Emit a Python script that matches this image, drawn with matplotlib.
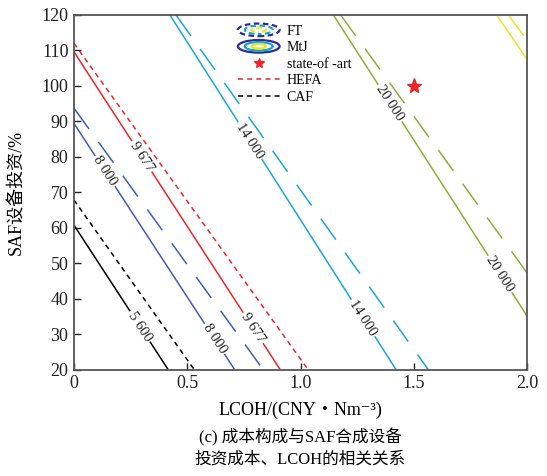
import numpy as np
import matplotlib
matplotlib.use("Agg")
import matplotlib.pyplot as plt
from matplotlib.legend_handler import HandlerBase
from matplotlib.patches import Ellipse
from matplotlib.lines import Line2D

plt.rcParams['font.family'] = ['Liberation Serif', 'DejaVu Serif', 'Noto Sans CJK SC']
plt.rcParams['lines.scale_dashes'] = False

# contour levels (CNY/t) and colours
levels = [5600, 8000, 9677, 14000, 20000, 26000]
level_colors = ['black', '#3f5fb5', '#e8262b', '#1ba6d4', '#8bb03a', '#e6e62a']

# MtJ (solid) lines: entry / exit points
mtj_x0 = [0, 0, 0, 0.423, 1.144, 1.864]
mtj_y0 = [60.7, 89.4, 109.6, 120, 120, 120]
mtj_x1 = [0.415, 0.708, 0.909, 1.42, 2.0, 2.0]
mtj_y1 = [20, 20, 20, 20, 34.9, 107.3]

# FT (dashed) lines
ft_x0 = [0, 0, 0, 0.45, 1.176, 1.916]
ft_y0 = [67.8, 93.7, 112, 120, 120, 120]
ft_x1 = [0.53, 0.834, 1.032, 1.562, 2.0, 2.0]
ft_y1 = [20, 20, 20, 20, 47.1, 112.7]

# inline labels on the MtJ lines: (level index, x position)
label_level = [0, 1, 1, 2, 2, 3, 3, 4, 4]
label_x = [0.291, 0.137, 0.62, 0.299, 0.79, 0.776, 1.275, 1.394, 1.879]

star_x, star_y = [1.5], [100]

xticks = [0, 0.5, 1.0, 1.5, 2.0]
xticklabels = ['0', '0.5', '1.0', '1.5', '2.0']
yticks = list(range(20, 121, 10))

long_dash = (18.5, 11.5)
short_dash = (3.6, 3.0)

fig = plt.figure(figsize=(5.47, 4.76), dpi=100)
ax = fig.add_axes([0.1353, 0.2237, 0.829, 0.7448])
ax.set_xlim(0, 2.0)
ax.set_ylim(20, 120)

for i, lev in enumerate(levels):
    c = level_colors[i]
    ax.plot([mtj_x0[i], mtj_x1[i]], [mtj_y0[i], mtj_y1[i]], color=c, lw=1.1,
            solid_capstyle='butt', zorder=2)
    dash = short_dash if lev in (5600, 9677) else long_dash
    ax.plot([ft_x0[i], ft_x1[i]], [ft_y0[i], ft_y1[i]], color=c, lw=1.1,
            dashes=dash, dash_capstyle='butt', zorder=2)

# labels along lines with white background to cut a gap
for li, lx in zip(label_level, label_x):
    xs = [mtj_x0[li], mtj_x1[li]]
    ys = [mtj_y0[li], mtj_y1[li]]
    ly = ys[0] + (ys[1] - ys[0]) * (lx - xs[0]) / (xs[1] - xs[0])
    p0 = ax.transData.transform((xs[0], ys[0]))
    p1 = ax.transData.transform((xs[1], ys[1]))
    ang = np.degrees(np.arctan2(p1[1] - p0[1], p1[0] - p0[0]))
    if ang < -90:
        ang += 180
    txt = f"{levels[li]:,}".replace(',', ' ')
    ax.text(lx, ly, txt, rotation=ang, rotation_mode='anchor', ha='center', va='center',
            fontsize=10.5, color='#222222', zorder=4,
            bbox=dict(boxstyle='square,pad=0.12', fc='white', ec='none'))

ax.plot(star_x, star_y, marker='*', color='#e8262b', ms=11, ls='none', zorder=5)


class EllipseHandler(HandlerBase):
    def __init__(self, colors, dashed):
        super().__init__()
        self.colors = colors
        self.dashed = dashed

    def create_artists(self, legend, orig_handle, xdescent, ydescent, width, height,
                       fontsize, trans):
        cx = width / 2 - xdescent
        cy = height / 2 - ydescent
        arts = []
        for k, c in enumerate(self.colors):
            s = 1 - 0.33 * k
            e = Ellipse((cx, cy), width * s, height * 1.3 * s, fill=False, ec=c, lw=1.6,
                        transform=trans)
            if self.dashed:
                e.set_linestyle((k * 2, (4, 2.5)))
            arts.append(e)
        return arts


ell_colors = ['#2c2c9c', '#1ba6c0', '#e6e62a']
h_ft = Line2D([], [])
h_mtj = Line2D([], [])
h_star = Line2D([], [], marker='*', color='#e8262b', ls='none', ms=7)
h_hefa = Line2D([], [], color='#e8262b', lw=1.1, dashes=short_dash)
h_caf = Line2D([], [], color='black', lw=1.1, dashes=short_dash)
ax.legend([h_ft, h_mtj, h_star, h_hefa, h_caf], ['FT', 'MtJ', 'state-of -art', 'HEFA', 'CAF'],
          handler_map={h_ft: EllipseHandler(ell_colors, True),
                       h_mtj: EllipseHandler(ell_colors, False)},
          loc='upper left', bbox_to_anchor=(0.34, 1.0), frameon=False, fontsize=10,
          handlelength=3.0, handletextpad=0.5, labelspacing=0.25, borderpad=0.2)

ax.set_xticks(xticks)
ax.set_xticklabels(xticklabels)
ax.set_yticks(yticks)
ax.tick_params(direction='in', length=5, width=1, labelsize=13, colors='#222222',
               top=False, right=False, pad=4)
for s in ax.spines.values():
    s.set_color('#555555')
    s.set_linewidth(1.3)

ax.set_xlabel('LCOH/(CNY\u30fbNm\u207b\u00b3)', fontsize=13)
ax.xaxis.set_label_coords(0.5, -0.09)
ax.set_ylabel('SAF设备投资/%', fontsize=13)
ax.yaxis.set_label_coords(-0.108, 0.5)

fig.text(0.549, 0.081, '(c) 成本构成与SAF合成设备', ha='center', va='center', fontsize=12)
fig.text(0.549, 0.035, '投资成本、LCOH的相关关系', ha='center', va='center', fontsize=12)

fig.savefig('out.png', dpi=100)
